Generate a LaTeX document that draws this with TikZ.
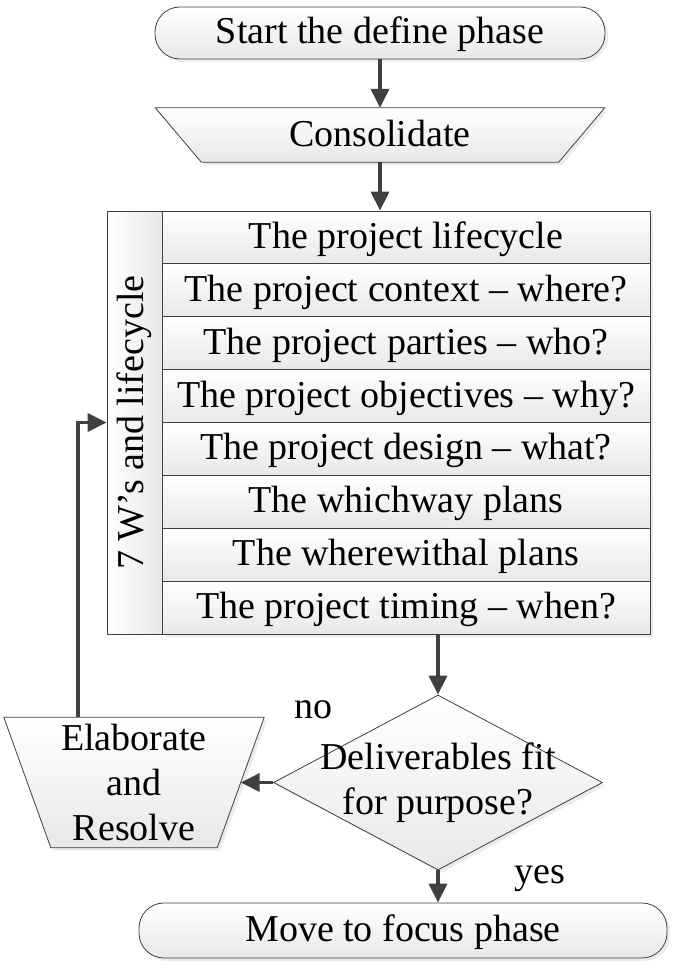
\documentclass[tikz,border=0pt]{standalone}
\usepackage{fontspec}
\setmainfont{Liberation Serif}
\usepackage{tikz}
\usetikzlibrary{shapes.geometric,arrows.meta,shadows,calc,backgrounds}

\begin{document}
\begin{tikzpicture}[x=1pt,y=-1pt,
  every node/.style={font=\fontsize{38}{45}\selectfont, inner sep=0pt},
  lbl/.style={text height=30pt, text depth=8pt},
  edge/.style={draw=black!75, line width=0.8pt},
  shade/.style={top color=white, bottom color=black!9, drop shadow={shadow xshift=3pt, shadow yshift=-3pt, fill=black!15, opacity=0.5}},
  term/.style={edge, shade, lbl, rounded corners=25pt},
  rowbox/.style={edge, shade, lbl, minimum width=488pt, minimum height=52.875pt},
  flow/.style={draw=black!75, line width=3.5pt, -{Triangle[length=19pt,width=18pt]}}]
\useasboundingbox (0,0) rectangle (677,966);
% start and consolidate
\node[term, minimum width=450pt, minimum height=52pt] (start) at (380,33) {Start the define phase};
\node[lbl, minimum width=403pt, minimum height=54pt] (cons) at (380,135) {Consolidate};
% 7 W's table
\node[edge, left color=white, right color=black!9, minimum width=55pt, minimum height=423pt] (lifecol) at (134.5,422.5) {\rotatebox{90}{7 W’s and lifecycle}};
\foreach \t [count=\i] in {The project lifecycle, The project context -- where?, The project parties -- who?, The project objectives -- why?, The project design -- what?, The whichway plans, The wherewithal plans, The project timing -- when?}
  \node[rowbox] (r\i) at (406,184.5625+52.875*\i) {\t};
% decision
\node[draw=black!75, line width=0.8pt, shade, diamond, minimum width=329pt, minimum height=175pt] (dec) at (438,782.5) {};
\node[align=center] (decl) at (dec.center) {Deliverables fit\\for purpose?};
\node[lbl] (no) at (313,707) {no};
\node[lbl] (yes) at (540,872) {yes};
\node[align=center, minimum width=213pt, minimum height=130pt] (elab) at (134,782.5) {Elaborate\\and\\Resolve};
\node[term, minimum width=528pt, minimum height=55pt] (move) at (403,930.5) {Move to focus phase};
% trapezium outlines
\begin{scope}[on background layer]
\draw[edge, shade] ($(cons.north west)+(-23,0)$) -- ($(cons.north east)+(23,0)$) -- ($(cons.south east)+(-23,0)$) -- ($(cons.south west)+(23,0)$) -- cycle;
\draw[edge, shade] ($(elab.north west)+(-23.5,0)$) -- ($(elab.north east)+(23.5,0)$) -- ($(elab.south east)+(-23.5,0)$) -- ($(elab.south west)+(23.5,0)$) -- cycle;
\end{scope}
% connectors
\draw[flow] (start) -- (cons);
\draw[flow] (cons.south) -- (cons.south |- r1.north);
\draw[flow] (dec.north |- r8.south) -- (dec.north);
\draw[flow] (dec.west) -- (elab.east);
\draw[flow] (dec.south) -- (dec.south |- move.north);
\draw[flow] ([xshift=50.5pt]elab.north west) |- (lifecol.west);
\end{tikzpicture}
\end{document}
